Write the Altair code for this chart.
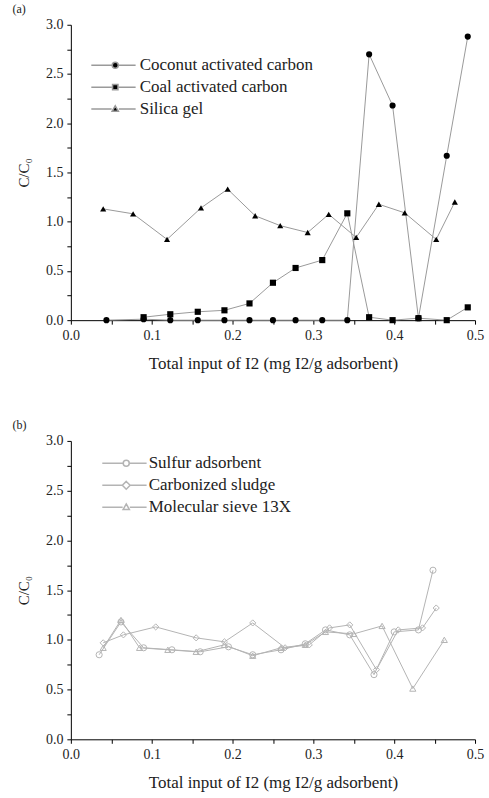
import altair as alt
import pandas as pd

# ---------------- data: panel (a) ----------------
a_series = ["Coconut activated carbon", "Coal activated carbon", "Silica gel"]

coconut_x = [0.044, 0.090, 0.123, 0.157, 0.190, 0.221, 0.250, 0.278, 0.311, 0.342, 0.369, 0.398, 0.430, 0.465, 0.491]
coconut_y = [0.00, 0.01, 0.00, 0.00, 0.00, 0.00, 0.00, 0.00, 0.00, 0.00, 2.70, 2.18, 0.02, 1.67, 2.88]

coal_x = [0.090, 0.123, 0.157, 0.190, 0.221, 0.250, 0.278, 0.311, 0.342, 0.369, 0.398, 0.430, 0.465, 0.491]
coal_y = [0.03, 0.06, 0.085, 0.10, 0.17, 0.38, 0.53, 0.61, 1.085, 0.03, 0.00, 0.02, 0.00, 0.13]

silica_x = [0.040, 0.077, 0.119, 0.161, 0.194, 0.228, 0.259, 0.293, 0.319, 0.353, 0.381, 0.413, 0.452, 0.475]
silica_y = [1.13, 1.08, 0.82, 1.14, 1.33, 1.06, 0.96, 0.89, 1.075, 0.84, 1.177, 1.09, 0.82, 1.20]

# ---------------- data: panel (b) ----------------
b_series = ["Sulfur adsorbent", "Carbonized sludge", "Molecular sieve 13X"]

sulfur_x = [0.035, 0.062, 0.090, 0.125, 0.160, 0.195, 0.225, 0.260, 0.290, 0.315, 0.345, 0.375, 0.400, 0.430, 0.448]
sulfur_y = [0.85, 1.18, 0.92, 0.90, 0.88, 0.93, 0.85, 0.90, 0.96, 1.10, 1.05, 0.65, 1.08, 1.10, 1.70]

sludge_x = [0.040, 0.065, 0.105, 0.155, 0.190, 0.225, 0.265, 0.295, 0.320, 0.345, 0.378, 0.405, 0.435, 0.452]
sludge_y = [0.97, 1.05, 1.13, 1.02, 0.98, 1.17, 0.92, 0.95, 1.12, 1.15, 0.70, 1.10, 1.12, 1.32]

sieve_x = [0.040, 0.062, 0.085, 0.120, 0.155, 0.190, 0.225, 0.260, 0.290, 0.315, 0.350, 0.385, 0.423, 0.462]
sieve_y = [0.92, 1.20, 0.92, 0.90, 0.88, 0.95, 0.84, 0.92, 0.95, 1.08, 1.06, 1.14, 0.51, 1.00]

x_title = "Total input of I2 (mg I2/g adsorbent)"
y_title = "C/C\u2080"

FONT = "Liberation Serif"
TXT = "#222"


def frame(names, xs, ys):
    rows = []
    for name, xv, yv in zip(names, xs, ys):
        for i, (a, b) in enumerate(zip(xv, yv)):
            rows.append({"series": name, "x": a, "y": b, "idx": i})
    return pd.DataFrame(rows)


df_a = frame(a_series, [coconut_x, coal_x, silica_x], [coconut_y, coal_y, silica_y])
df_b = frame(b_series, [sulfur_x, sludge_x, sieve_x], [sulfur_y, sludge_y, sieve_y])

x_vals = [round(i * 0.05, 2) for i in range(11)]
y_vals = [round(i * 0.25, 2) for i in range(13)]

x_major = "abs(datum.value*10 - round(datum.value*10)) < 0.001"
y_major = "abs(datum.value*2 - round(datum.value*2)) < 0.001"


def x_enc():
    return alt.X(
        "x:Q",
        scale=alt.Scale(domain=[0, 0.5], nice=False, zero=False),
        axis=alt.Axis(
            title=x_title,
            values=x_vals,
            labelExpr=f"{x_major} ? format(datum.value, '.1f') : ''",
            tickSize=4,
            grid=False,
            domainColor="black",
            tickColor="black",
            labelFont=FONT,
            labelFontSize=14,
            labelColor=TXT,
            labelPadding=4,
            titleFont=FONT,
            titleFontSize=17,
            titleFontWeight="normal",
            titleColor=TXT,
            titlePadding=13,
            labelFlush=False,
        ),
    )


def y_enc():
    return alt.Y(
        "y:Q",
        scale=alt.Scale(domain=[0, 3], nice=False),
        axis=alt.Axis(
            title=y_title,
            values=y_vals,
            labelExpr=f"{y_major} ? format(datum.value, '.1f') : ''",
            tickSize=4,
            grid=False,
            domainColor="black",
            tickColor="black",
            labelFont=FONT,
            labelFontSize=14,
            labelColor=TXT,
            labelPadding=4,
            titleFont=FONT,
            titleFontSize=15,
            titleFontWeight="normal",
            titleColor=TXT,
            titlePadding=14,
            labelFlush=False,
        ),
    )


# legend symbol paths: line segments with marker in the middle
seg = "M-8,0H-1.2M1.2,0H6.8"
circle_p = seg + "M1,0A1,1,0,1,1,-1,0A1,1,0,1,1,1,0Z"
square_p = seg + "M-0.9,-0.9H0.9V0.9H-0.9Z"
tri_p = seg + "M0,-1.1L1.05,0.75H-1.05Z"
diamond_p = "M-8,0H-1.3M1.3,0H6.8M0,-1.3L1.3,0L0,1.3L-1.3,0Z"


def panel(df, names, plot_shapes, legend_shapes, filled, line_color, mark_color,
          height, title, legend_x, legend_y, label_offset):
    base = alt.Chart(df)
    lines = base.mark_line(color=line_color, strokeWidth=1).encode(
        x=x_enc(), y=y_enc(), detail="series:N", order="idx:Q"
    )
    pts = base.mark_point(
        filled=filled, color=mark_color, size=38, strokeWidth=1, opacity=1
    ).encode(
        x=x_enc(), y=y_enc(),
        shape=alt.Shape("series:N", scale=alt.Scale(domain=names, range=plot_shapes), legend=None),
    )
    if filled:
        leg = base.transform_filter("false").mark_point(
            filled=True, fill=mark_color, stroke=line_color, strokeWidth=1, opacity=1
        )
    else:
        leg = base.transform_filter("false").mark_point(
            filled=False, stroke=line_color, strokeWidth=1, opacity=1
        )
    leg = leg.encode(
        shape=alt.Shape(
            "series:N",
            scale=alt.Scale(domain=names, range=legend_shapes),
            legend=alt.Legend(
                title=None,
                orient="none",
                legendX=legend_x,
                legendY=legend_y,
                symbolSize=36,
                labelOffset=label_offset,
                labelLimit=0,
                labelFont=FONT,
                labelFontSize=17,
                labelColor=TXT,
                rowPadding=4,
                padding=0,
            ),
        )
    )
    return (
        alt.layer(lines, pts, leg)
        .resolve_scale(shape="independent")
        .properties(
            width=405,
            height=height,
            title=alt.TitleParams(
                title, anchor="start", frame="bounds", font=FONT, fontSize=12,
                fontWeight="normal", color=TXT, dx=-4, offset=2,
            ),
        )
    )


chart_a = panel(
    df_a, a_series,
    ["circle", "square", "triangle-up"],
    [circle_p, square_p, tri_p],
    True, "#9a9a9a", "black", 296, "(a)", 36, 32, 16,
)
chart_b = panel(
    df_b, b_series,
    ["circle", "diamond", "triangle-up"],
    [circle_p, diamond_p, tri_p],
    False, "#b4b4b4", "#b4b4b4", 299, "(b)", 47, 14, 14,
)

chart = (
    alt.vconcat(chart_a, chart_b, spacing=48)
    .properties(padding={"left": 12, "top": 2, "right": 5, "bottom": 5}, background="white")
    .configure_view(stroke=None)
)

chart.save("out.html", embed_options={"renderer": "svg", "actions": False})
